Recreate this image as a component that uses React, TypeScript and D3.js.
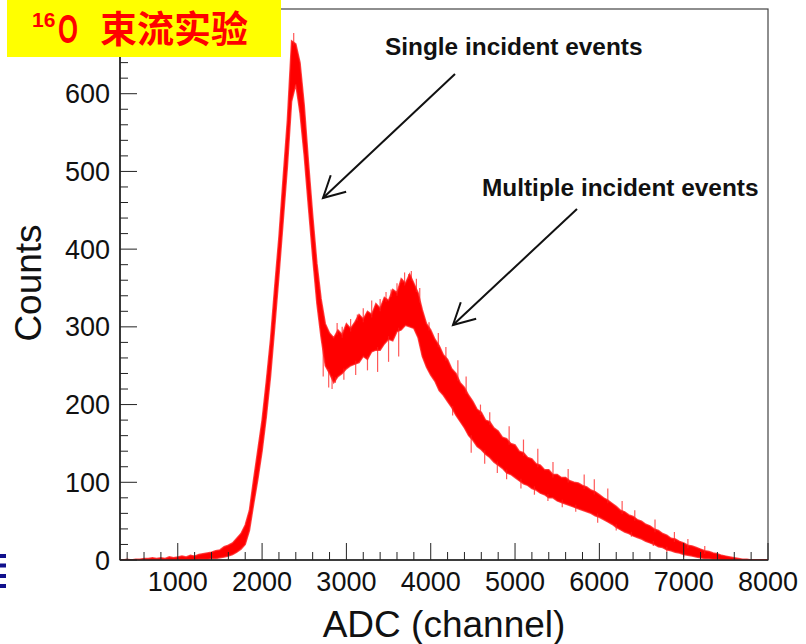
import React from 'react';
import * as d3 from 'd3';

// ---- data ----
const channels: number[] = d3.range(300, 8001, 50); // bin centres (ADC channel)

// upper / lower edge of the dense (noisy) histogram band, counts
const upperCounts: number[] = [
  0, 0, 1, 0, 1, 1, 2, 2, 3, 2,
  3, 2, 4, 3, 4, 5, 4, 6, 5, 7,
  8, 9, 10, 12, 13, 17, 19, 22, 28, 34,
  45, 64, 104, 142, 180, 230, 284, 352, 416, 492,
  566, 668, 664, 640, 585, 512, 444, 382, 336, 304,
  292, 286, 296, 290, 304, 298, 306, 316, 310, 320,
  316, 330, 324, 338, 334, 348, 344, 362, 356, 368,
  356, 344, 322, 304, 296, 284, 276, 264, 258, 246,
  240, 228, 222, 212, 204, 194, 190, 180, 178, 170,
  166, 158, 156, 150, 148, 140, 138, 132, 130, 124,
  122, 116, 116, 110, 110, 106, 106, 102, 100, 99,
  96, 94, 90, 88, 84, 80, 77, 73, 69, 64,
  62, 58, 56, 52, 50, 46, 44, 40, 38, 34,
  32, 28, 27, 24, 22, 19, 18, 16, 14, 12,
  11, 9, 8, 6, 5, 4, 3, 2, 1, 1,
  0, 0, 0, 0, 0,
];

const lowerCounts: number[] = [
  0, 0, 0, 0, 0, 0, 0, 0, 0, 0,
  0, 0, 0, 0, 0, 0, 0, 0, 0, 1,
  1, 1, 2, 2, 3, 4, 5, 7, 10, 14,
  20, 38, 72, 104, 140, 184, 236, 300, 366, 436,
  506, 590, 612, 575, 520, 454, 390, 330, 286, 250,
  240, 228, 236, 240, 246, 250, 252, 254, 262, 258,
  268, 270, 270, 278, 284, 282, 294, 296, 302, 300,
  298, 286, 262, 248, 238, 230, 218, 212, 204, 196,
  186, 178, 170, 160, 154, 146, 142, 136, 132, 126,
  122, 118, 112, 110, 106, 102, 98, 96, 92, 90,
  86, 84, 80, 80, 76, 74, 72, 70, 68, 66,
  64, 62, 60, 57, 55, 52, 49, 46, 42, 39,
  36, 34, 31, 29, 27, 24, 22, 20, 17, 16,
  13, 12, 10, 9, 7, 6, 5, 4, 3, 2,
  2, 1, 1, 0, 0, 0, 0, 0, 0, 0,
  0, 0, 0, 0, 0,
];

// isolated single-bin spikes that stick out of the band (channel, counts)
const spikeUpChannels: number[] = [
  2375, 2890, 2950, 3050, 3130, 3200, 3300, 3400, 3470, 3530, 3600, 3660, 3690, 3740, 3770,
  3830, 3870, 3980, 4090, 4180, 4322, 4420, 4590, 4700, 4930, 5100, 5270, 5450, 5630, 5820,
  5940, 6100, 6270, 6420, 6660, 6890, 7050, 7250,
];
const spikeUpCounts: number[] = [
  678, 305, 300, 310, 316, 324, 334, 336, 345, 348, 356, 362, 370, 368, 372,
  362, 350, 306, 292, 274, 257, 236, 200, 190, 172, 155, 143, 126, 117, 110,
  104, 92, 76, 64, 52, 36, 27, 18,
];
const spikeDownChannels: number[] = [
  2725, 2790, 2830, 2870, 2970, 3110, 3250, 3370, 3500, 3620, 4260, 4480, 4640, 4790, 4900,
  5070, 5230, 5390, 5560, 5720, 5980, 6200, 6380, 6640, 6800, 7000,
];
const spikeDownCounts: number[] = [
  236, 222, 220, 228, 232, 238, 244, 242, 255, 262, 186, 138, 124, 112, 104,
  92, 84, 76, 68, 62, 48, 38, 30, 18, 10, 4,
];

const xTickLabels: number[] = [1000, 2000, 3000, 4000, 5000, 6000, 7000, 8000];
const yMajorTicks: number[] = [0, 100, 200, 300, 400, 500, 600, 700];
const yTickLabels: number[] = [0, 100, 200, 300, 400, 500, 600]; // 700 is hidden under the title box
const xMinorTicks: number[] = d3.range(400, 8001, 200).filter((v) => v % 1000 !== 0);
const yMinorTicks: number[] = d3.range(0, 701, 20).filter((v) => v % 100 !== 0);

const annotations = [
  { text: 'Single incident events', tx: 385, ty: 55, from: [455, 74], to: [323, 198] },
  { text: 'Multiple incident events', tx: 482, ty: 196, from: [577, 209], to: [453, 325] },
];

const FONT = "'Liberation Sans', Arial, Helvetica, sans-serif";

export default function App() {
  const left = 120, right = 768, top = 9, bottom = 560;
  const x = d3.scaleLinear().domain([315, 8000]).range([left, right]);
  const y = d3.scaleLinear().domain([0, 709]).range([bottom, top]);

  const idx = d3.range(channels.length);
  const area = d3
    .area<number>()
    .x((i) => x(channels[i]))
    .y0((i) => y(lowerCounts[i]))
    .y1((i) => y(upperCounts[i]));
  const upperLine = d3.line<number>().x((i) => x(channels[i])).y((i) => y(upperCounts[i]));
  const lowerLine = d3.line<number>().x((i) => x(channels[i])).y((i) => y(lowerCounts[i]));

  const upAt = d3.scaleLinear().domain(channels).range(upperCounts);
  const loAt = d3.scaleLinear().domain(channels).range(lowerCounts);

  const arrowHead = (from: number[], to: number[]) => {
    const dx = from[0] - to[0];
    const dy = from[1] - to[1];
    const len = Math.hypot(dx, dy);
    const ux = dx / len, uy = dy / len;
    const L = 24;
    const a = (28 * Math.PI) / 180;
    const w1 = [to[0] + L * (ux * Math.cos(a) - uy * Math.sin(a)), to[1] + L * (ux * Math.sin(a) + uy * Math.cos(a))];
    const w2 = [to[0] + L * (ux * Math.cos(-a) - uy * Math.sin(-a)), to[1] + L * (ux * Math.sin(-a) + uy * Math.cos(-a))];
    return `M${w1[0]},${w1[1]}L${to[0]},${to[1]}L${w2[0]},${w2[1]}`;
  };

  return (
    <svg
      width={806}
      height={644}
      viewBox="0 0 806 644"
      style={{ position: 'absolute', left: 0, top: 0, display: 'block', background: '#fff' }}
    >
      <rect x={0} y={0} width={806} height={644} fill="#fff" />
      <defs>
        <clipPath id="frameClip">
          <rect x={left} y={top} width={right - left} height={bottom - top} />
        </clipPath>
      </defs>

      {/* frame */}
      <rect x={left} y={top} width={right - left} height={bottom - top} fill="none" stroke="#444" strokeWidth={1.2} />

      {/* histogram band */}
      <g clipPath="url(#frameClip)">
        <path d={area(idx) || ''} fill="#ff0000" />
        <path d={upperLine(idx) || ''} fill="none" stroke="#ff1a1a" strokeWidth={1.5} strokeOpacity={0.8} />
        <path d={lowerLine(idx) || ''} fill="none" stroke="#ff1a1a" strokeWidth={1.5} strokeOpacity={0.8} />
        {spikeUpChannels.map((c, i) => (
          <line
            key={'su' + c}
            x1={x(c)}
            x2={x(c)}
            y1={y(upAt(c) - 4)}
            y2={y(spikeUpCounts[i])}
            stroke="#ff2020"
            strokeWidth={1.2}
            strokeOpacity={0.75}
          />
        ))}
        {spikeDownChannels.map((c, i) => (
          <line
            key={'sd' + c}
            x1={x(c)}
            x2={x(c)}
            y1={y(loAt(c) + 4)}
            y2={y(spikeDownCounts[i])}
            stroke="#ff2020"
            strokeWidth={1.2}
            strokeOpacity={0.75}
          />
        ))}
      </g>

      {/* axes lines */}
      <line x1={left} y1={bottom} x2={right} y2={bottom} stroke="#222" strokeWidth={1.6} />
      <line x1={left} y1={top} x2={left} y2={bottom} stroke="#222" strokeWidth={1.6} />

      {/* x ticks */}
      {xTickLabels.map((v) => (
        <line key={'xM' + v} x1={x(v)} x2={x(v)} y1={bottom} y2={bottom - 17} stroke="#222" strokeWidth={1} />
      ))}
      {xMinorTicks.map((v) => (
        <line key={'xm' + v} x1={x(v)} x2={x(v)} y1={bottom} y2={bottom - 8} stroke="#222" strokeWidth={1} />
      ))}
      {/* y ticks */}
      {yMajorTicks.map((v) => (
        <line key={'yM' + v} x1={left} x2={left + 17} y1={y(v)} y2={y(v)} stroke="#222" strokeWidth={1} />
      ))}
      {yMinorTicks.map((v) => (
        <line key={'ym' + v} x1={left} x2={left + 8} y1={y(v)} y2={y(v)} stroke="#222" strokeWidth={1} />
      ))}

      {/* tick labels */}
      {xTickLabels.map((v) => (
        <text key={'xl' + v} x={x(v)} y={591} textAnchor="middle" fontFamily={FONT} fontSize={27} fill="#111">
          {v}
        </text>
      ))}
      {yTickLabels.map((v) => (
        <text key={'yl' + v} x={110} y={y(v) + 9.5} textAnchor="end" fontFamily={FONT} fontSize={27} fill="#111">
          {v}
        </text>
      ))}

      {/* axis titles */}
      <text x={444} y={637} textAnchor="middle" fontFamily={FONT} fontSize={37} fill="#111">
        ADC (channel)
      </text>
      <text
        transform="translate(41,283) rotate(-90)"
        textAnchor="middle"
        fontFamily={FONT}
        fontSize={37}
        fill="#111"
      >
        Counts
      </text>

      {/* annotations */}
      {annotations.map((a) => (
        <g key={a.text}>
          <text x={a.tx} y={a.ty} fontFamily={FONT} fontSize={24.4} fontWeight="bold" fill="#111">
            {a.text}
          </text>
          <line x1={a.from[0]} y1={a.from[1]} x2={a.to[0]} y2={a.to[1]} stroke="#111" strokeWidth={2} />
          <path d={arrowHead(a.from, a.to)} fill="none" stroke="#111" strokeWidth={2} />
        </g>
      ))}

      {/* yellow title box */}
      <rect x={7} y={0} width={274} height={57} fill="#ffff00" />
      <text x={32} y={27} fontFamily={FONT} fontSize={21} fontWeight="bold" fill="#ff0000">
        16
      </text>
      <text
        x={58}
        y={43}
        fontFamily={FONT}
        fontSize={40}
        fontWeight="bold"
        fill="#ff0000"
        textLength={20}
        lengthAdjust="spacingAndGlyphs"
      >
        O
      </text>
      <text x={100} y={43} fontFamily="'Noto Sans CJK SC', sans-serif" fontSize={37} fontWeight="bold" fill="#ff0000">
        束流实验
      </text>

      {/* blue stripes at the left edge (slide decoration) */}
      {[554, 563.5, 574, 584].map((yy) => (
        <rect key={'b' + yy} x={0} y={yy} width={6} height={4} fill="#10108c" />
      ))}
    </svg>
  );
}
